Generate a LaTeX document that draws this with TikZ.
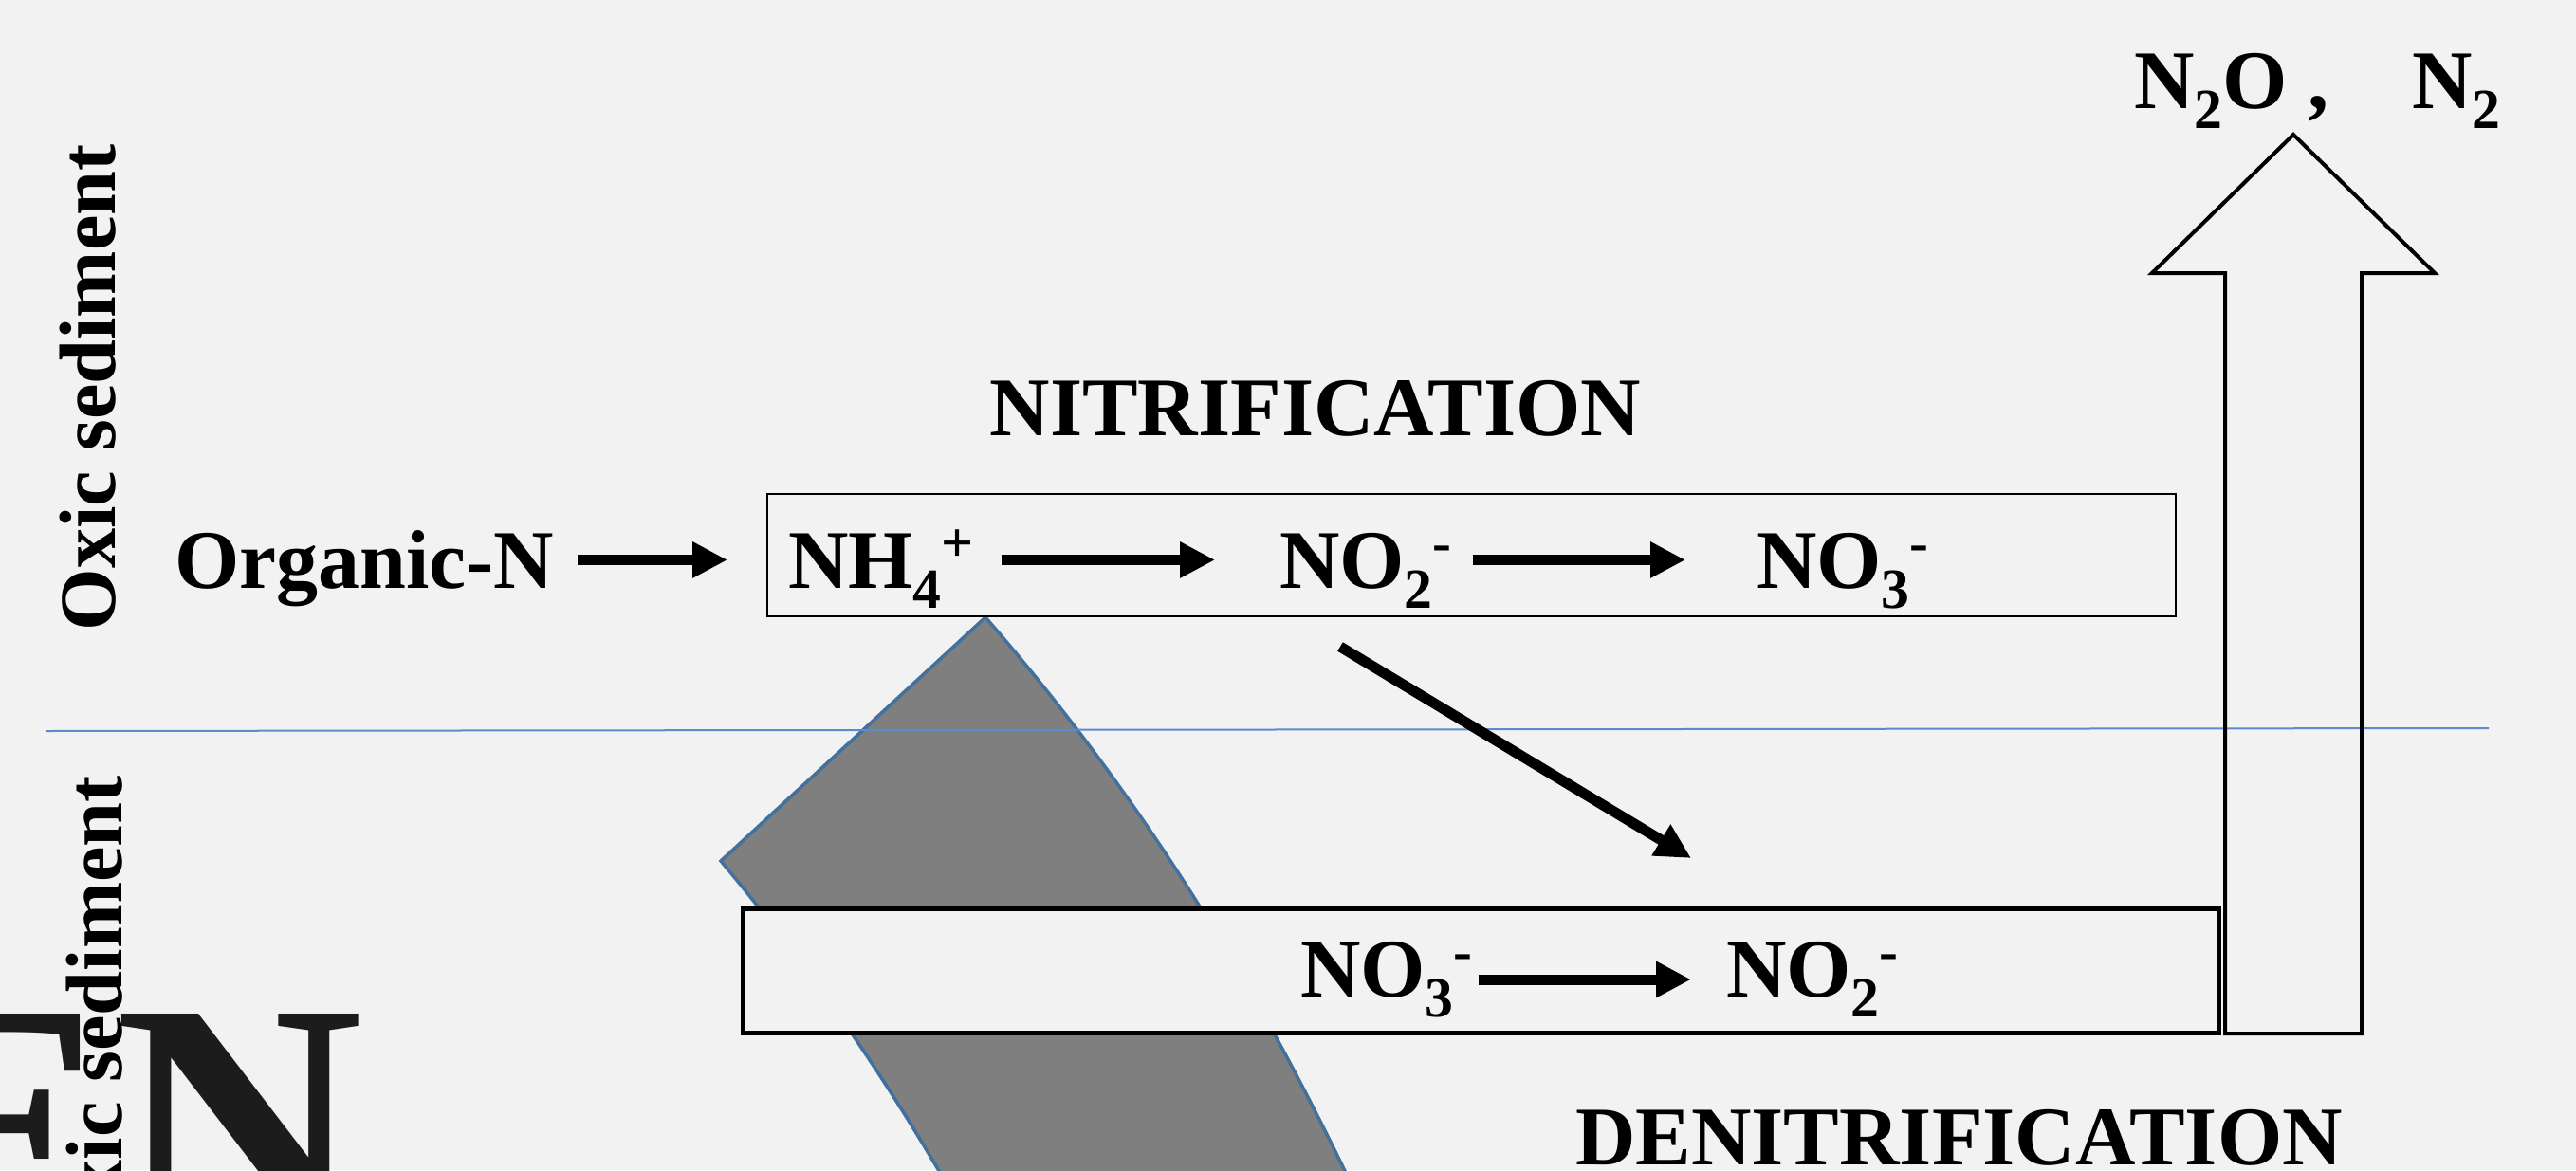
\documentclass[tikz,border=0pt]{standalone}
\usepackage{fontspec}
\setmainfont{Liberation Serif}
\usetikzlibrary{arrows.meta}
\definecolor{slide}{RGB}{242,242,242}
\definecolor{sedline}{RGB}{91,139,205}
\definecolor{plug}{RGB}{127,127,127}
\definecolor{plugedge}{RGB}{65,113,156}
\definecolor{bigtext}{RGB}{28,28,28}
\newcommand{\chsb}[1]{\raisebox{-0.24em}{\fontsize{17}{17}\selectfont #1}}
\newcommand{\chsp}[1]{\raisebox{0.31em}{\fontsize{17}{17}\selectfont #1}}

\begin{document}
\begin{tikzpicture}[>={Triangle[length=0.37cm,width=0.36cm]},
	every node/.style={inner sep=0pt, outer sep=0pt},
	chem/.style={font=\bfseries\fontsize{25}{30}\selectfont, text height=0.59cm, text depth=0pt, anchor=west},
	side/.style={font=\bfseries\fontsize{24}{28}\selectfont, text height=0.58cm, text depth=0pt, rotate=90},
	huge/.style={font=\bfseries\fontsize{103}{103}\selectfont, text=bigtext},
	flow/.style={->, line width=0.11cm},
	zone/.style={draw, fill=slide, rectangle}
	]
\useasboundingbox (0,0) rectangle (27.16,12.34);
\clip (0,0) rectangle (27.16,12.34);
\fill[slide] (0,0) rectangle (27.16,12.34);
% big letters cut by the page
\node[huge, anchor=base east] (bige) at (1.18,-0.72) {E};
\node[huge, anchor=base west] (bign) at (1.21,-0.72) {N};
% grey wedge
\filldraw[fill=plug, draw=plugedge, line width=0.035cm]
  (10.39,5.83) -- (7.60,3.26) .. controls (8.69,1.96) and (9.555,0.64) .. (10.27,-0.66)
  -- (14.49,-0.66) .. controls (13.46,1.54) and (12.30,3.63) .. (10.39,5.83) -- cycle;
% oxic / anoxic boundary
\coordinate (bl) at (0.48,4.63);
\coordinate (br) at (26.24,4.66);
\draw[sedline, line width=0.02cm] (bl) -- (br);
% boxes
\node[zone, line width=0.02cm, minimum width=14.85cm, minimum height=1.29cm] (nitbox) at (15.515,6.485) {};
\node[zone, line width=0.05cm, minimum width=15.56cm, minimum height=1.31cm] (denbox) at (15.61,2.105) {};
% gas escape
\draw[line width=0.04cm] (23.46,1.44) -- (23.46,9.46) -- (22.69,9.46) -- (24.18,10.92)
  -- (25.67,9.46) -- (24.90,9.46) -- (24.90,1.44) -- cycle;
% labels
\node[side] (oxic) at (0.92,8.25) {Oxic sediment};
\node[side, anchor=east] (anoxic) at (0.99,4.16) {Anoxic sediment};
\node[chem] (orgn) at (1.84,6.435) {Organic-N};
\node[chem] (nh4) at (8.31,6.435) {NH\chsb{4}\chsp{+}};
\node[chem] (no2a) at (13.49,6.435) {NO\chsb{2}\chsp{-}};
\node[chem] (no3a) at (18.52,6.435) {NO\chsb{3}\chsp{-}};
\node[chem] (no3b) at (13.71,2.125) {NO\chsb{3}\chsp{-}};
\node[chem] (no2b) at (18.20,2.125) {NO\chsb{2}\chsp{-}};
\node[chem] (gas) at (22.50,11.495) {N\chsb{2}O ,\quad N\chsb{2}};
\node[chem, anchor=center] (nitri) at (13.87,8.045) {NITRIFICATION};
\node[chem, anchor=center] (denitri) at (20.655,0.355) {DENITRIFICATION};
% reactions
\draw[flow, shorten <=0.25cm, shorten >=0.64cm] (orgn) -- (nh4);
\draw[flow, shorten <=0.29cm, shorten >=0.68cm] (nh4) -- (no2a);
\draw[flow, shorten <=0.22cm, shorten >=0.75cm] (no2a) -- (no3a);
\draw[flow, shorten <=0.06cm, shorten >=0.37cm] ([yshift=-0.115cm]no3b.east) -- ([yshift=-0.115cm]no2b.west);
\coordinate (dstart) at (14.13,5.52);
\coordinate (dend) at (17.83,3.29);
\draw[flow] (dstart) -- (dend);
\end{tikzpicture}
\end{document}
